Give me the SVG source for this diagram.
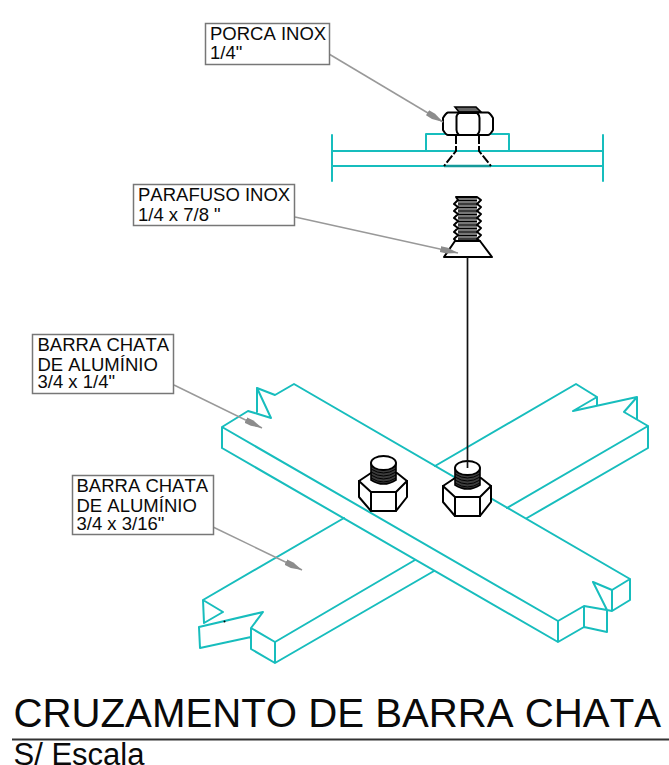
<svg xmlns="http://www.w3.org/2000/svg" xmlns:xlink="http://www.w3.org/1999/xlink" width="669" height="765" viewBox="0 0 669 765">
<style>
text{font-family:"Liberation Sans",Arial,sans-serif;fill:#0a0a0a;font-kerning:none}
.lb{font-size:18.5px}
.t{fill:none;stroke:#17bdbd;stroke-width:2;stroke-linejoin:round;stroke-linecap:round}
.k{fill:none;stroke:#000;stroke-width:2;stroke-linejoin:round;stroke-linecap:round}
.w{fill:#fff;stroke:#000;stroke-width:2;stroke-linejoin:round}
.box{fill:#fff;stroke:#777;stroke-width:1.5}
.lead{fill:none;stroke:#999;stroke-width:1.5;marker-end:url(#ah)}
.th{stroke:#000;stroke-width:1;fill:none}
</style>
<defs>
<marker id="ah" markerUnits="userSpaceOnUse" markerWidth="20" markerHeight="8" refX="18" refY="4" orient="auto" viewBox="0 0 20 8">
<path d="M0,1 L7,1 L18,4 L7,7 L0,7 Z" fill="#8c8c8c"/>
</marker>
<g id="nut">
<path class="w" d="M359,481 L371,473 H397 L407,481 V497 L396,511 H371 L359,497 Z"/>
<path class="k" d="M359,481 L371,492 H396 L407,481 M371,492 V511 M396,492 V511"/>
<path d="M371,463 V480 Q383.500,488 396,480 V463 Z" fill="#3c3c3c" stroke="#000" stroke-width="1.600"/>
<path class="th" d="M371,466 Q383.500,474 396,466 M371,469 Q383.500,477 396,469 M371,472 Q383.500,480 396,472 M371,475 Q383.500,483 396,475 M371,478 Q383.500,486 396,478"/>
<ellipse cx="383.500" cy="463" rx="12.500" ry="7" fill="#fff" stroke="#000" stroke-width="1.800"/>
</g>
</defs>
<rect width="669" height="765" fill="#fff"/>

<g id="barra-inferior">
<path class="t" d="M435,466 L576,384 L597,397 L573,411 L637,397 L624,412 L648,426 V448 L527,518 M597,397 V405 M637,397 V419 M648,426 L507,508"/>
<path class="t" d="M344,518 L203,600 L223,612 L204,623 L203,600 M199,627 L263,612 L251,628 L275,642 V663 L251,649 V628 M199,627 L200,648 L251,637 M275,642 L415,560 M275,663 L434,571"/>
</g>
<circle id="ponto" cx="224.500" cy="621.500" r="1" fill="#000"/>

<g id="barra-superior">
<path class="t" d="M222,448 V427 L248,411 L258,414 L271,418 L257,388 L275,395 L294,384 L630,579 V600 L612,611 V590 L630,579 M257,388 V412 M222,427 L558,621 V642 L222,448 M558,621 L584,606 L607,610 L593,582 L612,590 M607,610 V632 L584,627 V606 M584,627 L558,642 M612,611 L607,610"/>
</g>

<g id="vista-frontal">
<path class="t" d="M332,135 V181 M603,135 V181 M332,151 H603 M332,166 H603 M426,151 V134 H509 V151"/>
<path d="M444,166 H491" stroke="#149a9a" stroke-width="2.400" fill="none"/>
</g>

<g id="porca">
<path d="M456,135 V151 L444,166" fill="none" stroke="#000" stroke-width="2" stroke-dasharray="9 2"/>
<path d="M479,135 V151 L491,166" fill="none" stroke="#000" stroke-width="2" stroke-dasharray="9 2"/>
<path d="M455,107 H476 L481,112 H459 Z" fill="#666" stroke="#000" stroke-width="1.600"/>
<path class="w" stroke-width="2.200" d="M448,112.500 H488 Q490,113 493,118 V130 Q490,135 488,135 H448 Q446,135 443,130 V118 Q446,113 448,112.500 Z"/>
<path class="k" stroke-width="2.200" d="M459,113 Q456,115 456.500,118 V130 Q456.500,133 459,135 M477,113 Q479.500,115 479.500,118 V130 Q479.500,133 477,135"/>
<path class="k" stroke-width="3" d="M459,113 H478"/>
</g>

<g id="parafuso">
<rect x="458" y="197" width="19" height="44" fill="#777"/>
<path class="k" stroke-width="1.800" d="M456,197 H477 L481,200 L477,204 L481,207 L477,211 L481,214 L477,218 L481,221 L477,225 L481,228 L477,232 L481,235 L477,239 L480,241 M456,197 L458,200 L454,204 L458,207 L454,211 L458,214 L454,218 L458,221 L454,225 L458,228 L454,232 L458,235 L454,239 L456,241"/>
<path class="th" d="M458,200.500 H477 M458,204 H477 M458,207.500 H477 M458,211 H477 M458,214.500 H477 M458,218 H477 M458,221.500 H477 M458,225 H477 M458,228.500 H477 M458,232 H477 M458,235.500 H477 M458,239 H477"/>
<path class="w" d="M455,241 H480 L492,257 H444 Z"/>
</g>

<g id="porcas-montadas">
<use xlink:href="#nut" href="#nut"/>
<use xlink:href="#nut" href="#nut" x="84" y="5"/>
</g>

<g id="connectors">
<path d="M467.500,257 V468" fill="none" stroke="#111" stroke-width="1.700"/>
<path class="lead" d="M329,54 L443,122"/>
<path class="lead" d="M295,217 L458,253"/>
<path class="lead" d="M174,385 L262,428"/>
<path class="lead" d="M213,527 L302,570"/>
</g>

<g id="label-porca">
<rect class="box" x="205.500" y="23.500" width="124" height="41"/>
<text class="lb" x="210" y="40">PORCA INOX</text>
<text class="lb" x="210" y="59">1/4"</text>
</g>
<g id="label-parafuso">
<rect class="box" x="133.500" y="184.500" width="161" height="41"/>
<text class="lb" x="138" y="201">PARAFUSO INOX</text>
<text class="lb" x="138" y="221">1/4 x 7/8 "</text>
</g>
<g id="label-barra-1">
<rect class="box" x="32.500" y="334.500" width="141" height="59"/>
<text class="lb" x="37.500" y="351">BARRA CHATA</text>
<text class="lb" x="37.500" y="371">DE ALUMÍNIO</text>
<text class="lb" x="37.500" y="388">3/4 x 1/4"</text>
</g>
<g id="label-barra-2">
<rect class="box" x="72.500" y="475.500" width="141" height="59"/>
<text class="lb" x="76.500" y="492">BARRA CHATA</text>
<text class="lb" x="76.500" y="512">DE ALUMÍNIO</text>
<text class="lb" x="76.500" y="530">3/4 x 3/16"</text>
</g>

<g id="titulo">
<text x="13.500" y="727" font-size="40.200">CRUZAMENTO DE BARRA CHATA</text>
<line x1="12" y1="739.500" x2="669" y2="739.500" stroke="#333" stroke-width="1.800"/>
<text x="13.500" y="765" font-size="31">S/ Escala</text>
</g>
</svg>
